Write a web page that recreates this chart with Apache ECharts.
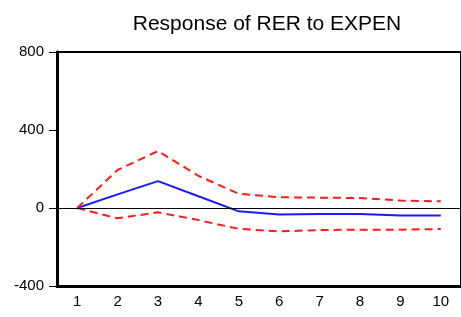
<!DOCTYPE html>
<html>
<head>
<meta charset="utf-8">
<script src="https://cdn.jsdelivr.net/npm/echarts@6/dist/echarts.min.js"></script>
<style>
  html, body { margin: 0; padding: 0; background: #fff; }
  #chart { width: 461px; height: 317px; }
</style>
</head>
<body>
<div id="chart"></div>
<script>
  // periods
  const periods = ['1', '2', '3', '4', '5', '6', '7', '8', '9', '10'];
  // impulse response and +/- 2 s.e. bands
  const response = [0, 70, 138, 60, -17, -33, -31, -31, -38, -39];
  const upperBand = [0, 195, 292, 165, 73, 55, 53, 51, 38, 34];
  const lowerBand = [0, -53, -22, -62, -107, -120, -113, -111, -111, -108];
  const yTicks = { min: -400, max: 800, step: 400 };

  const font = 'Liberation Sans, Arial, sans-serif';
  const chart = echarts.init(document.getElementById('chart'));

  const dashed = {
    type: 'line',
    symbol: 'none',
    silent: true,
    lineStyle: { color: '#ff1a1a', width: 2, type: [8, 5] }
  };

  chart.setOption({
    animation: false,
    title: {
      text: 'Response of RER to EXPEN',
      left: 262,
      textAlign: 'center',
      top: 9,
      textStyle: { fontFamily: font, fontSize: 21, fontWeight: 'normal', color: '#000' }
    },
    grid: {
      left: 57, top: 52, width: 410, height: 234,
      show: true, borderColor: '#000', borderWidth: 2
    },
    xAxis: {
      type: 'category',
      data: periods,
      boundaryGap: true,
      axisLine: { onZero: false, lineStyle: { color: '#000', width: 3 } },
      axisTick: { length: 7, lineStyle: { color: '#000', width: 1 } },
      axisLabel: { color: '#000', fontFamily: font, fontSize: 15, margin: 8 },
      splitLine: { show: false }
    },
    yAxis: {
      type: 'value',
      min: yTicks.min, max: yTicks.max, interval: yTicks.step,
      axisLine: { show: true, lineStyle: { color: '#000', width: 3 } },
      axisTick: { show: true, length: 8, lineStyle: { color: '#000', width: 1 } },
      axisLabel: { color: '#000', fontFamily: font, fontSize: 15, margin: 13 },
      splitLine: { show: false }
    },
    series: [
      {
        type: 'line',
        data: response,
        symbol: 'none',
        z: 3,
        lineStyle: { color: '#1a1aff', width: 2 },
        markLine: {
          silent: true,
          symbol: 'none',
          label: { show: false },
          lineStyle: { color: '#000', width: 1, type: 'solid' },
          data: [{ yAxis: 0 }]
        }
      },
      Object.assign({ data: upperBand }, dashed),
      Object.assign({ data: lowerBand }, dashed)
    ]
  });
</script>
</body>
</html>
